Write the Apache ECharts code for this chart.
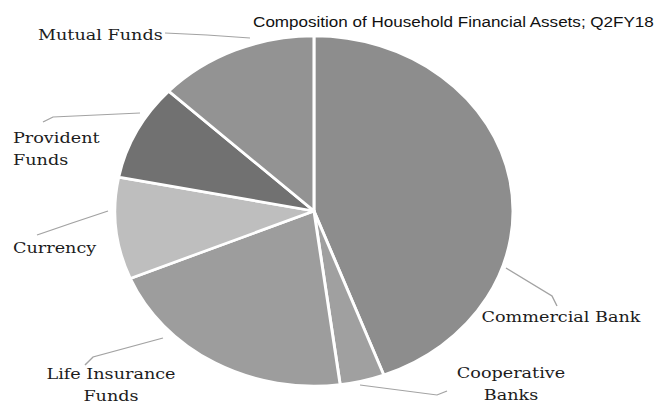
<!DOCTYPE html>
<html>
<head>
<meta charset="utf-8">
<title>Composition of Household Financial Assets</title>
<script src="https://cdn.jsdelivr.net/npm/echarts@6/dist/echarts.min.js"></script>
<style>
  html, body { margin: 0; padding: 0; background: #fff; }
  #wrap { width: 661px; height: 405px; overflow: hidden; position: relative; }
  /* the source picture is a pie stretched sideways, so the chart box is too */
  #chart { width: 581px; height: 405px; transform: scaleX(1.1375); transform-origin: 0 0; }
</style>
</head>
<body>
<div id="wrap"><div id="chart"></div></div>
<script>
// data (share of household financial assets, %)
var categories = ["Commercial Bank", "Cooperative Banks", "Life Insurance Funds", "Currency", "Provident Funds", "Mutual Funds"];
var shares = [44.3, 3.6, 20.8, 9.4, 8.9, 13.0];
var labelText = ["Commercial Bank", "Cooperative\nBanks", "Life Insurance\nFunds", "Currency", "Provident\nFunds", "Mutual Funds"];

var SX = 1.1375;
var colors = ["#8d8d8d", "#a0a0a0", "#9d9d9d", "#bebebe", "#717171", "#939393"];

// label anchors and leader lines, in picture pixels
var labelPos = [
  { x: 561, y: 317, align: "center" },
  { x: 511, y: 384, align: "center" },
  { x: 111, y: 385, align: "center" },
  { x: 13, y: 248, align: "left" },
  { x: 13, y: 149, align: "left" },
  { x: 38, y: 35, align: "left" }
];
var leaders = [
  [[506, 268], [552, 296], [557, 306]],
  [[360, 385], [437, 395], [447, 391]],
  [[163, 338], [93, 357], [85, 365]],
  [[108, 211], [72, 223], [37, 235]],
  [[140, 113], [53, 117], [43, 122]],
  [[250, 38], [207, 35], [165, 33]]
];

var myChart = echarts.init(document.getElementById("chart"), null, { renderer: "svg" });

var option = {
  backgroundColor: "#fff",
  animation: false,
  title: {
    text: "Composition of Household Financial Assets; Q2FY18",
    right: 5,
    top: 14,
    padding: 0,
    textStyle: {
      fontFamily: "Liberation Sans",
      fontSize: 15,
      fontWeight: "normal",
      color: "#111"
    }
  },
  series: [
    {
      type: "pie",
      center: [276, 211],
      radius: 175,
      startAngle: 90,
      clockwise: true,
      itemStyle: {
        borderColor: "#fff",
        borderWidth: 2.6
      },
      label: {
        show: true,
        position: "outside",
        overflow: "none",
        fontFamily: "DejaVu Serif",
        fontSize: 15.5,
        lineHeight: 22,
        color: "#1c1c1c",
        formatter: function (p) {
          return labelText[p.dataIndex];
        }
      },
      labelLine: {
        show: true,
        lineStyle: { color: "#a3a3a3", width: 1.2 }
      },
      labelLayout: function (params) {
        var i = params.dataIndex;
        var pos = labelPos[i];
        return {
          x: pos.x / SX,
          y: pos.y,
          align: pos.align,
          verticalAlign: "middle",
          width: 200,
          labelLinePoints: leaders[i].map(function (pt) {
            return [pt[0] / SX, pt[1]];
          })
        };
      },
      data: categories.map(function (name, i) {
        return { name: name, value: shares[i], itemStyle: { color: colors[i] } };
      })
    }
  ]
};

option && myChart.setOption(option);
</script>
</body>
</html>
